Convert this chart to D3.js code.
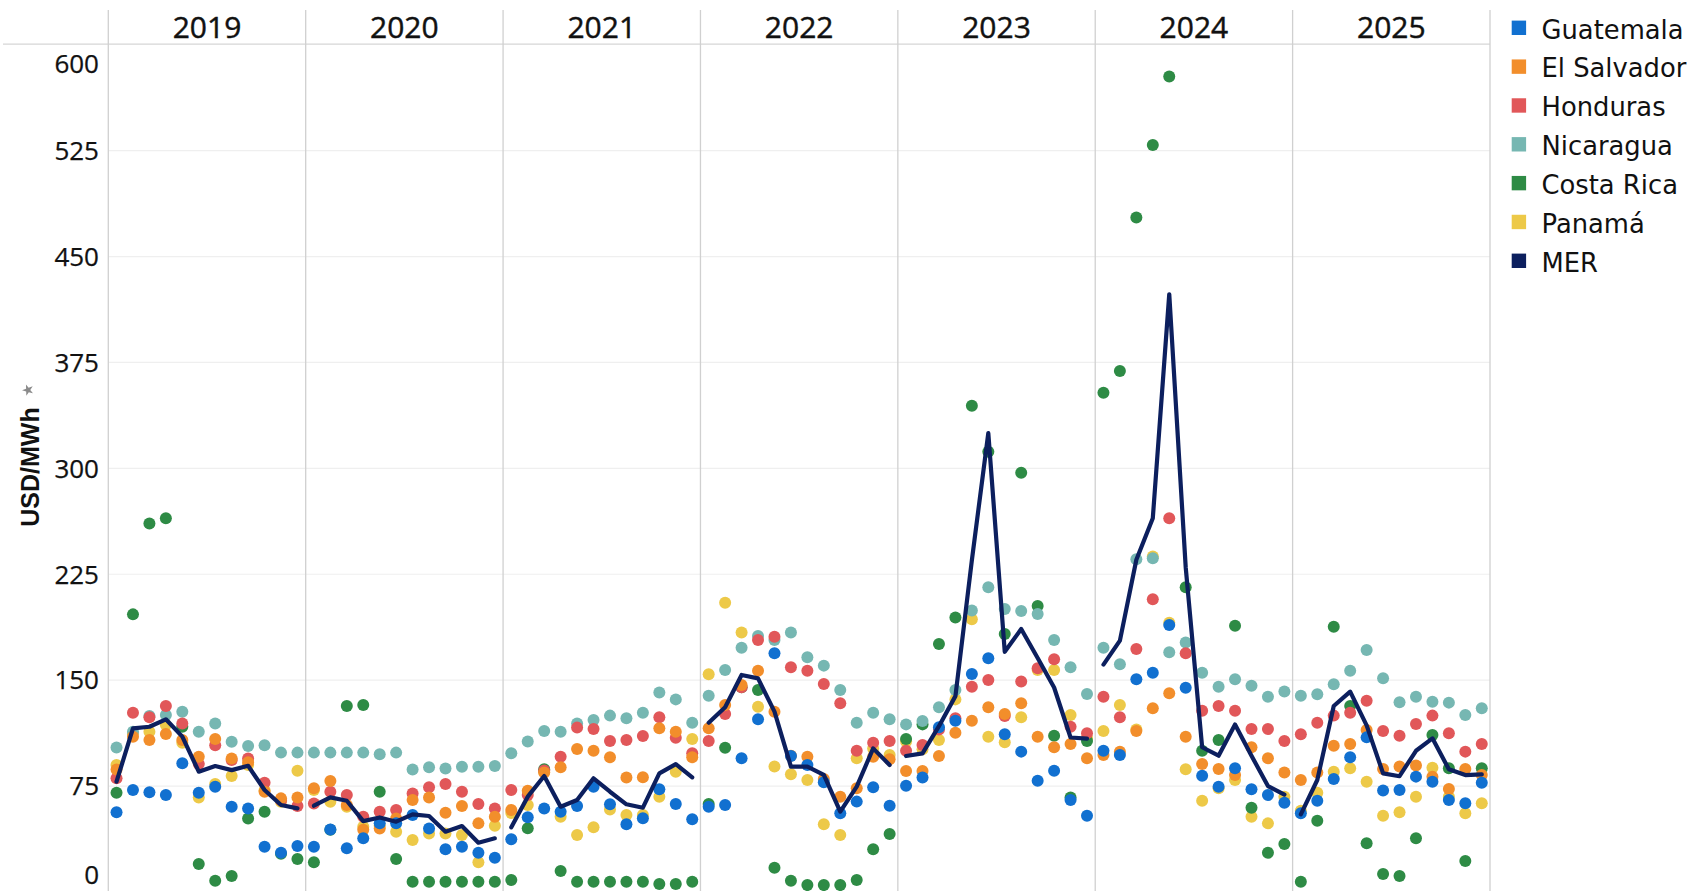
<!DOCTYPE html>
<html>
<head>
<meta charset="utf-8">
<script src="https://cdn.jsdelivr.net/npm/d3@7"></script>
<style>
  html, body { margin: 0; padding: 0; background: #fff; }
  svg { display: block; }
</style>
</head>
<body>
<svg id="chart" width="1704" height="891"></svg>
<script>
// ---------------- DATA ----------------
const years = ["2019", "2020", "2021", "2022", "2023", "2024", "2025"];
const months = [1, 2, 3, 4, 5, 6, 7, 8, 9, 10, 11, 12];
const yTicks = [0, 75, 150, 225, 300, 375, 450, 525, 600];
const seriesNames = ["Guatemala", "El Salvador", "Honduras", "Nicaragua", "Costa Rica", "Panamá", "MER"];

// monthly values, USD/MWh, Jan 2019 ... Dec 2025 (12 per year)
const guatemala = [
  56.4, 72.2, 70.6, 68.7, 91.1, 70.3, 74.6, 60.4, 59.2, 32.1, 27.8, 32.5,
  32.1, 44.3, 30.9, 38.0, 48.6, 48.6, 54.5, 45.0, 30.2, 32.1, 27.8, 24.3,
  37.3, 52.9, 59.2, 56.9, 60.9, 74.6, 62.1, 47.9, 52.2, 72.7, 62.3, 51.5,
  60.4, 61.6, 94.7, 122.3, 169.0, 96.3, 89.9, 77.7, 55.7, 64.0, 74.1, 61.1,
  75.3, 81.0, 116.6, 121.3, 154.4, 165.5, 111.7, 99.4, 78.8, 85.9, 65.1, 54.0,
  100.1, 97.0, 150.6, 155.3, 189.1, 144.7, 82.4, 74.6, 87.6, 72.7, 68.7, 63.2,
  55.7, 64.7, 80.0, 95.4, 109.5, 71.8, 72.3, 81.7, 78.1, 65.1, 62.8, 77.4
];
const elSalvador = [
  86.8, 110.0, 107.6, 111.9, 107.6, 95.8, 108.3, 94.6, 91.8, 71.0, 66.3, 67.0,
  73.4, 78.6, 61.6, 44.0, 45.0, 52.1, 65.1, 67.0, 56.1, 60.9, 48.6, 53.3,
  58.1, 71.7, 84.7, 88.3, 101.3, 100.1, 95.4, 81.0, 81.2, 115.9, 113.5, 95.4,
  115.9, 132.4, 146.6, 156.7, 127.7, 96.5, 95.8, 80.0, 67.5, 73.4, 95.8, 94.0,
  85.7, 85.7, 96.3, 112.8, 121.3, 130.8, 126.0, 133.6, 110.0, 102.5, 104.8, 94.7,
  97.0, 99.4, 114.0, 130.1, 140.7, 110.0, 90.6, 87.1, 82.9, 102.5, 94.7, 84.7,
  79.3, 84.7, 103.6, 104.8, 114.7, 87.1, 88.8, 89.5, 81.7, 72.9, 87.1, 82.8
];
const honduras = [
  80.5, 127.0, 123.7, 131.7, 119.4, 90.6, 104.0, 93.4, 94.6, 77.4, 65.0, 60.9,
  62.7, 71.0, 68.7, 53.3, 56.9, 58.0, 69.8, 74.1, 76.4, 71.0, 62.3, 59.2,
  72.2, 68.7, 86.0, 95.8, 116.4, 115.4, 106.9, 107.6, 110.5, 123.7, 109.3, 98.2,
  106.9, 126.0, 145.0, 178.5, 180.8, 159.1, 156.7, 147.3, 133.6, 100.1, 105.7, 106.9,
  100.1, 104.1, 115.0, 123.0, 145.4, 150.1, 124.7, 149.0, 158.4, 164.8, 117.1, 112.4,
  138.3, 123.7, 172.1, 207.3, 264.7, 169.0, 128.4, 131.7, 128.4, 115.4, 115.4, 106.9,
  111.7, 119.9, 124.9, 127.0, 135.5, 114.0, 110.7, 119.0, 124.9, 112.4, 99.4, 104.8
];
const nicaragua = [
  102.4, 113.5, 124.6, 125.3, 127.7, 113.5, 119.4, 106.4, 103.4, 104.0, 98.7, 98.7,
  98.7, 98.7, 98.7, 98.7, 97.5, 98.7, 86.8, 88.3, 87.5, 88.7, 88.7, 89.2,
  98.2, 106.5, 114.0, 113.5, 119.4, 121.8, 124.9, 123.0, 127.0, 141.2, 136.4, 119.9,
  139.0, 157.2, 173.0, 181.3, 178.5, 183.7, 166.2, 160.3, 143.0, 119.9, 127.0, 122.3,
  118.7, 121.1, 130.8, 143.0, 199.3, 215.8, 200.4, 199.0, 196.9, 178.5, 159.1, 140.2,
  173.0, 161.2, 235.6, 236.3, 169.7, 176.6, 155.3, 145.4, 150.6, 146.1, 138.3, 141.9,
  139.0, 140.0, 147.1, 156.7, 171.4, 151.3, 134.3, 138.3, 134.8, 134.1, 125.3, 130.1
];
const costaRica = [
  70.3, 196.6, 261.0, 264.7, 117.0, 19.8, 8.0, 11.3, 52.1, 56.9, 27.0, 23.3,
  21.0, 44.0, 131.7, 132.4, 71.0, 23.3, 7.3, 7.3, 7.3, 7.3, 7.3, 7.3,
  8.5, 45.1, 86.9, 14.9, 7.3, 7.3, 7.3, 7.3, 7.3, 5.6, 5.6, 7.3,
  62.3, 102.2, 145.0, 143.0, 17.2, 8.0, 4.9, 4.9, 4.9, 8.5, 30.2, 41.1,
  108.3, 118.7, 175.6, 194.3, 344.4, 311.8, 182.7, 296.9, 202.5, 110.7, 67.0, 107.0,
  353.6, 368.9, 477.6, 529.0, 577.4, 215.8, 100.1, 107.6, 188.6, 59.7, 27.8, 34.0,
  7.3, 50.5, 187.9, 131.7, 34.5, 12.7, 11.3, 38.0, 111.2, 87.6, 22.0, 87.6
];
const panama = [
  89.9, 112.0, 113.5, 118.2, 105.7, 67.0, 76.4, 82.1, 90.0, 72.0, 63.9, 85.9,
  72.2, 63.9, 60.4, 46.2, 47.0, 42.7, 36.8, 41.5, 41.5, 40.3, 21.0, 46.9,
  56.0, 61.6, 85.0, 53.3, 40.4, 45.8, 58.5, 54.5, 54.5, 67.5, 85.2, 108.3,
  154.2, 204.9, 183.7, 131.2, 88.8, 83.3, 79.3, 47.9, 40.4, 94.7, 101.7, 97.0,
  106.5, 101.0, 107.6, 136.4, 193.1, 110.0, 106.0, 123.7, 157.2, 157.2, 125.3, 109.0,
  114.0, 132.4, 115.0, 237.5, 190.7, 86.9, 64.7, 73.4, 79.3, 53.3, 48.6, 67.5,
  57.6, 70.3, 85.2, 87.6, 78.1, 54.0, 56.4, 67.5, 88.0, 67.5, 55.7, 62.8
];
const mer = [
  78.1, 115.9, 117.0, 122.3, 110.0, 85.2, 89.2, 86.3, 89.4, 72.2, 61.6, 59.2,
  61.1, 67.0, 64.6, 50.2, 52.8, 49.8, 55.0, 53.8, 42.7, 46.7, 34.9, 38.0,
  45.8, 67.5, 82.1, 60.4, 65.1, 80.5, 71.0, 62.1, 59.7, 84.0, 90.6, 81.2,
  119.9, 130.8, 153.7, 151.3, 127.7, 88.8, 88.8, 82.9, 56.9, 74.6, 101.7, 90.0,
  96.3, 98.2, 117.4, 138.7, 235.0, 325.0, 170.1, 186.2, 165.7, 144.8, 109.4, 108.6,
  161.0, 178.0, 235.3, 264.7, 423.3, 230.0, 102.5, 96.5, 118.6, 96.5, 75.0, 69.0,
  55.0, 79.3, 131.7, 141.9, 118.0, 84.0, 82.0, 100.0, 108.8, 86.9, 82.8, 83.3
];

// ---------------- STYLE ----------------
const colors = {
  "Guatemala": "#1170d0",
  "El Salvador": "#f28e2b",
  "Honduras": "#e15759",
  "Nicaragua": "#76b7b2",
  "Costa Rica": "#2e8b45",
  "Panamá": "#edc948",
  "MER": "#0c1f5e"
};
const dotSeries = [
  { name: "Guatemala", values: guatemala },
  { name: "El Salvador", values: elSalvador },
  { name: "Honduras", values: honduras },
  { name: "Nicaragua", values: nicaragua },
  { name: "Costa Rica", values: costaRica },
  { name: "Panamá", values: panama }
];

const svg = d3.select("#chart");
const plotLeft = 108.3, plotRight = 1490, plotTop = 44.7, plotBottom = 892;
const headerTop = 10;

const xYear = d3.scaleBand().domain(years).range([plotLeft, plotRight]).padding(0);
const xMonth = d3.scaleBand().domain(months).range([0, xYear.bandwidth()]).padding(0);
const y = d3.scaleLinear().domain([0, 600]).range([plotBottom, plotTop]);

const xPos = (yi, m) => xYear(years[yi]) + xMonth(m) + xMonth.bandwidth() / 2;

// gridlines
const grid = svg.append("g");
grid.selectAll("line")
  .data(yTicks.filter(v => v > 0 && v < 600))
  .join("line")
  .attr("x1", plotLeft).attr("x2", plotRight)
  .attr("y1", d => y(d)).attr("y2", d => y(d))
  .attr("stroke", "#efefef").attr("stroke-width", 1.2);

// header line
svg.append("line")
  .attr("x1", 3).attr("x2", plotRight)
  .attr("y1", 44.2).attr("y2", 44.2)
  .attr("stroke", "#d6d6d6").attr("stroke-width", 1.3);

// panel separators
const seps = years.map(yr => xYear(yr)).concat([plotRight]);
svg.append("g").selectAll("line")
  .data(seps)
  .join("line")
  .attr("x1", d => d).attr("x2", d => d)
  .attr("y1", headerTop).attr("y2", 891)
  .attr("stroke", "#d0d0d0").attr("stroke-width", 1.3);

// year headers
svg.append("g").selectAll("text")
  .data(years)
  .join("text")
  .attr("x", d => xYear(d) + xYear.bandwidth() / 2)
  .attr("y", 38.3)
  .attr("text-anchor", "middle")
  .attr("font-family", "'Open Sans', sans-serif")
  .attr("font-size", 30)
  .attr("fill", "#111")
  .attr("stroke", "#111")
  .attr("stroke-width", 0.45)
  .text(d => d);

// y axis labels
const yAxis = d3.axisLeft(y).tickValues(yTicks).tickSize(0).tickPadding(0);
const yAxisG = svg.append("g").attr("transform", "translate(99,0)").call(yAxis);
yAxisG.select(".domain").remove();
yAxisG.selectAll(".tick")
  .attr("transform", d => `translate(0,${Math.min(875, Math.max(63.5, y(d)))})`);
yAxisG.selectAll(".tick text")
  .attr("x", 0)
  .attr("dy", "0.357em")
  .attr("text-anchor", "end")
  .attr("font-family", "'Open Sans', sans-serif")
  .attr("font-size", 26)
  .attr("fill", "#111")
  .attr("stroke", "#111")
  .attr("stroke-width", 0.25);

// y title
svg.append("text")
  .attr("transform", "translate(38.5,467) rotate(-90)")
  .attr("text-anchor", "middle")
  .attr("font-family", "'Liberation Sans', Arial, sans-serif")
  .attr("font-weight", "bold")
  .attr("font-size", 25)
  .attr("fill", "#111")
  .text("USD/MWh");
svg.append("path")
  .attr("d", d3.symbol(d3.symbolStar, 40)())
  .attr("transform", "translate(28,390) rotate(-20)")
  .attr("fill", "#8a8a8a");

// dots: draw Panamá first (bottom), Guatemala last (top)
const dotsG = svg.append("g");
dotSeries.slice().reverse().forEach(s => {
  const pts = [];
  years.forEach((yr, yi) => months.forEach((m, mi) => {
    pts.push({ yi, m, v: s.values[yi * 12 + mi] });
  }));
  dotsG.append("g").selectAll("circle")
    .data(pts)
    .join("circle")
    .attr("cx", d => xPos(d.yi, d.m))
    .attr("cy", d => y(d.v))
    .attr("r", 6)
    .attr("fill", colors[s.name]);
});

// MER line: one segment per year pane
const line = d3.line()
  .x(d => xPos(d.yi, d.m))
  .y(d => y(d.v));
const merG = svg.append("g");
years.forEach((yr, yi) => {
  const pts = months.map((m, mi) => ({ yi, m, v: mer[yi * 12 + mi] }));
  merG.append("path")
    .datum(pts)
    .attr("d", line)
    .attr("fill", "none")
    .attr("stroke", colors["MER"])
    .attr("stroke-width", 4.2)
    .attr("stroke-linejoin", "round")
    .attr("stroke-linecap", "round");
});

// legend
const legend = svg.append("g");
const legY = d3.scalePoint().domain(seriesNames).range([27.8, 260.8]);
const item = legend.selectAll("g")
  .data(seriesNames)
  .join("g")
  .attr("transform", d => `translate(0,${legY(d)})`);
item.append("rect")
  .attr("x", 1511.7).attr("y", -7.2)
  .attr("width", 14.4).attr("height", 14.4)
  .attr("fill", d => colors[d]);
item.append("text")
  .attr("x", 1541.5).attr("y", 10.8)
  .attr("font-family", "'DejaVu Sans', sans-serif")
  .attr("font-size", 25.8)
  .attr("fill", "#111")
  .text(d => d);
</script>
</body>
</html>
